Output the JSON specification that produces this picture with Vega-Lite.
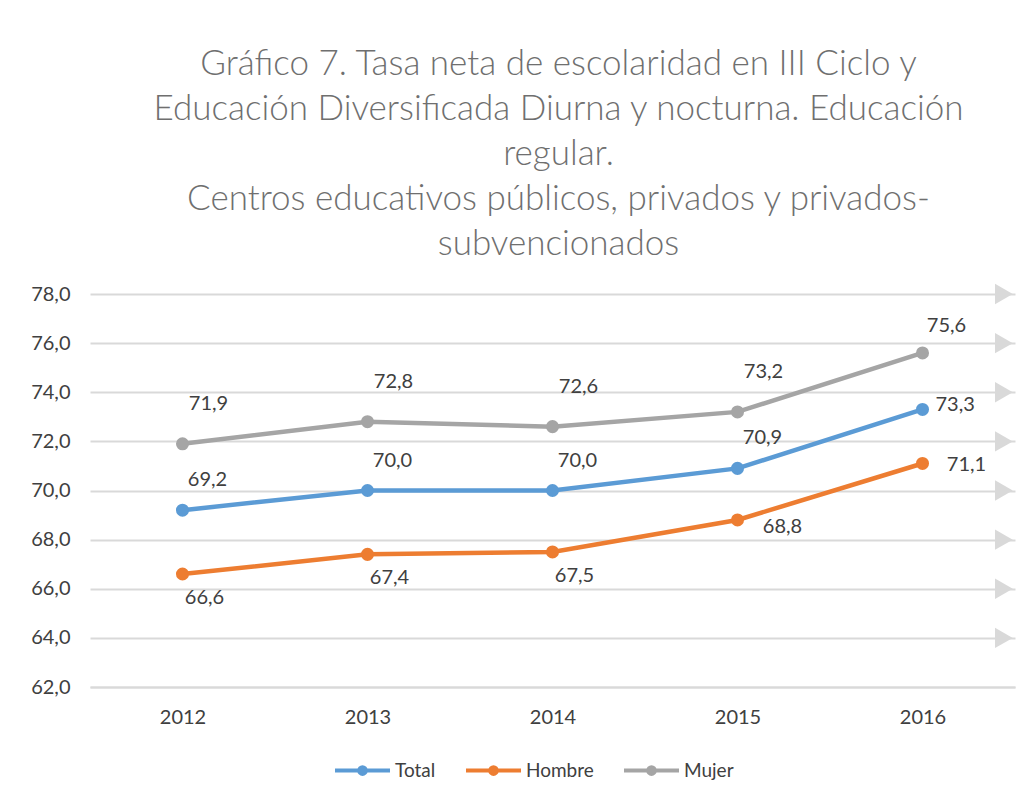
{
  "$schema": "https://vega.github.io/schema/vega-lite/v6.json",
  "width": 925,
  "height": 393,
  "autosize": {"type": "none"},
  "padding": {"left": 90, "top": 294, "right": 16, "bottom": 113},
  "background": "white",
  "config": {
    "locale": {"number": {"decimal": ",", "thousands": ".", "grouping": [3], "currency": ["", " €"]}},
    "font": "Lato",
    "view": {"stroke": null},
    "title": {"font": "Lato", "fontSize": 35, "fontWeight": 300, "color": "#6f6f6f", "lineHeight": 45}
  },
  "title": {
    "text": ["Gráfico 7. Tasa neta de escolaridad en III Ciclo y", "Educación Diversificada Diurna y nocturna. Educación", "regular.", "Centros educativos públicos, privados y privados-", "subvencionados"],
    "anchor": "middle",
    "frame": "group",
    "dx": 6,
    "offset": 22
  },
  "datasets": {
    "main": [
      {"year": 2012, "series": "Total", "value": 69.2},
      {"year": 2013, "series": "Total", "value": 70.0},
      {"year": 2014, "series": "Total", "value": 70.0},
      {"year": 2015, "series": "Total", "value": 70.9},
      {"year": 2016, "series": "Total", "value": 73.3},
      {"year": 2012, "series": "Hombre", "value": 66.6},
      {"year": 2013, "series": "Hombre", "value": 67.4},
      {"year": 2014, "series": "Hombre", "value": 67.5},
      {"year": 2015, "series": "Hombre", "value": 68.8},
      {"year": 2016, "series": "Hombre", "value": 71.1},
      {"year": 2012, "series": "Mujer", "value": 71.9},
      {"year": 2013, "series": "Mujer", "value": 72.8},
      {"year": 2014, "series": "Mujer", "value": 72.6},
      {"year": 2015, "series": "Mujer", "value": 73.2},
      {"year": 2016, "series": "Mujer", "value": 75.6}
    ],
    "arrows": [{"year": 2016.44, "value": 64}, {"year": 2016.44, "value": 66}, {"year": 2016.44, "value": 68}, {"year": 2016.44, "value": 70}, {"year": 2016.44, "value": 72}, {"year": 2016.44, "value": 74}, {"year": 2016.44, "value": 76}, {"year": 2016.44, "value": 78}]
  },
  "data": {"name": "main"},
  "encoding": {
    "x": {
      "field": "year", "type": "quantitative",
      "scale": {"domain": [2011.5, 2016.5], "nice": false, "zero": false},
      "axis": {"values": [2012, 2013, 2014, 2015, 2016], "format": "d", "grid": false, "ticks": false, "domain": true, "domainColor": "#d9d9d9", "domainWidth": 2, "labelPadding": 20, "labelFontSize": 20, "labelColor": "#404040", "labelFont": "Lato", "title": null}
    },
    "y": {
      "field": "value", "type": "quantitative",
      "scale": {"domain": [62, 78], "nice": false, "zero": false},
      "axis": {"values": [62, 64, 66, 68, 70, 72, 74, 76, 78], "format": ".1f", "grid": true, "gridColor": "#d9d9d9", "gridWidth": 2, "domain": false, "ticks": false, "labelPadding": 20, "labelFontSize": 20, "labelColor": "#404040", "labelFont": "Lato", "title": null}
    }
  },
  "layer": [
    {
      "data": {"name": "arrows"},
      "mark": {"type": "point", "shape": "triangle-right", "filled": true, "size": 420, "color": "#d9d9d9", "opacity": 1},
      "encoding": {}
    },
    {
      "mark": {"type": "line", "strokeWidth": 4.5},
      "encoding": {
        "color": {
          "field": "series", "type": "nominal",
          "scale": {"domain": ["Total", "Hombre", "Mujer"], "range": ["#5B9BD5", "#ED7D31", "#A5A5A5"]},
          "legend": {
            "orient": "none", "direction": "horizontal", "legendX": 243, "legendY": 447, "title": null,
            "symbolType": "M-1,0L1,0M-0.12,0A0.12,0.12,0,1,0,0.12,0A0.12,0.12,0,1,0,-0.12,0",
            "symbolSize": 3025, "symbolStrokeWidth": 4, "labelFontSize": 19, "labelColor": "#404040", "labelFont": "Lato", "labelOffset": 3, "columnPadding": 22
          }
        }
      }
    },
    {
      "mark": {"type": "point", "filled": true, "size": 170, "opacity": 1},
      "encoding": {"color": {"field": "series", "type": "nominal"}}
    },
    {
      "transform": [{"filter": "datum.series === 'Mujer' && datum.year < 2016"}],
      "mark": {"type": "text", "dx": 26, "dy": -40, "fontSize": 20, "color": "#404040", "font": "Lato"},
      "encoding": {"text": {"field": "value", "type": "quantitative", "format": ".1f"}}
    },
    {
      "transform": [{"filter": "datum.series === 'Mujer' && datum.year === 2016"}],
      "mark": {"type": "text", "dx": 24, "dy": -27, "fontSize": 20, "color": "#404040", "font": "Lato"},
      "encoding": {"text": {"field": "value", "type": "quantitative", "format": ".1f"}}
    },
    {
      "transform": [{"filter": "datum.series === 'Total' && datum.year < 2016"}],
      "mark": {"type": "text", "dx": 25, "dy": -30, "fontSize": 20, "color": "#404040", "font": "Lato"},
      "encoding": {"text": {"field": "value", "type": "quantitative", "format": ".1f"}}
    },
    {
      "transform": [{"filter": "datum.series === 'Total' && datum.year === 2016"}],
      "mark": {"type": "text", "align": "left", "dx": 13, "dy": -4, "fontSize": 20, "color": "#404040", "font": "Lato"},
      "encoding": {"text": {"field": "value", "type": "quantitative", "format": ".1f"}}
    },
    {
      "transform": [{"filter": "datum.series === 'Hombre' && datum.year < 2015"}],
      "mark": {"type": "text", "dx": 22, "dy": 24, "fontSize": 20, "color": "#404040", "font": "Lato"},
      "encoding": {"text": {"field": "value", "type": "quantitative", "format": ".1f"}}
    },
    {
      "transform": [{"filter": "datum.series === 'Hombre' && datum.year === 2015"}],
      "mark": {"type": "text", "dx": 45, "dy": 7, "fontSize": 20, "color": "#404040", "font": "Lato"},
      "encoding": {"text": {"field": "value", "type": "quantitative", "format": ".1f"}}
    },
    {
      "transform": [{"filter": "datum.series === 'Hombre' && datum.year === 2016"}],
      "mark": {"type": "text", "dx": 44, "dy": 2, "fontSize": 20, "color": "#404040", "font": "Lato"},
      "encoding": {"text": {"field": "value", "type": "quantitative", "format": ".1f"}}
    }
  ]
}
